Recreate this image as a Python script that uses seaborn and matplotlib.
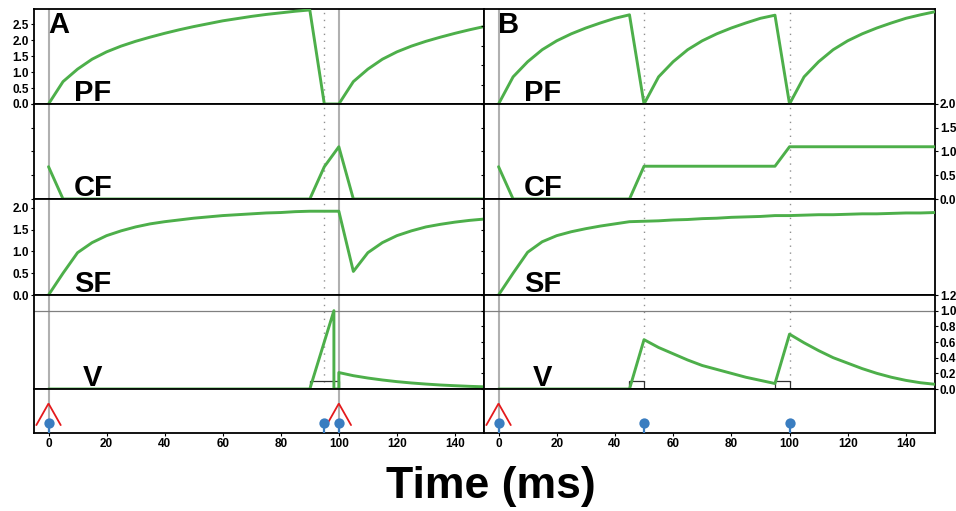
import matplotlib
matplotlib.use("Agg")
import matplotlib.pyplot as plt
from matplotlib.patches import Rectangle
import seaborn as sns

sns.set_style("white")
plt.rcParams['font.family'] = ['Liberation Sans', 'DejaVu Sans']
plt.rcParams['font.weight'] = 'bold'
plt.rcParams['text.color'] = 'black'
plt.rcParams['axes.labelcolor'] = 'black'
plt.rcParams['xtick.color'] = 'black'
plt.rcParams['ytick.color'] = 'black'

# ---------------- data ----------------
t5 = list(range(0, 155, 5))

pf_a = [0, 0.70, 1.09, 1.40, 1.63, 1.81, 1.96, 2.09, 2.21, 2.32, 2.42, 2.51, 2.60,
        2.67, 2.74, 2.80, 2.85, 2.90, 2.94, 0, 0, 0.70, 1.09, 1.40, 1.63, 1.81,
        1.96, 2.09, 2.21, 2.32, 2.42]
pf_b = [0, 0.70, 1.09, 1.40, 1.63, 1.81, 1.96, 2.09, 2.21, 2.30, 0, 0.70, 1.09,
        1.40, 1.63, 1.81, 1.96, 2.09, 2.21, 2.29, 0, 0.70, 1.09, 1.40, 1.63, 1.81,
        1.96, 2.09, 2.21, 2.30, 2.38]

cf_a_t = [0, 5, 90, 95, 100, 105, 150]
cf_a = [0.68, 0, 0, 0.68, 1.10, 0, 0]
cf_b_t = [0, 5, 45, 50, 95, 100, 150]
cf_b = [0.68, 0, 0, 0.69, 0.69, 1.10, 1.10]

sf_a = [0, 0.50, 0.97, 1.20, 1.36, 1.47, 1.56, 1.63, 1.68, 1.72, 1.76, 1.79, 1.82,
        1.84, 1.86, 1.88, 1.89, 1.91, 1.92, 1.92, 1.92, 0.54, 0.97, 1.20, 1.36,
        1.47, 1.56, 1.62, 1.67, 1.71, 1.74]
sf_b = [0, 0.50, 0.98, 1.22, 1.36, 1.45, 1.52, 1.58, 1.63, 1.68, 1.69, 1.70, 1.72,
        1.73, 1.75, 1.76, 1.78, 1.79, 1.80, 1.82, 1.82, 1.83, 1.84, 1.84, 1.85,
        1.86, 1.86, 1.87, 1.88, 1.88, 1.89]

v_a_t = [0, 90, 98.3, 98.3, 100, 100, 105, 110, 115, 120, 125, 130, 135, 140, 145, 150]
v_a = [0, 0, 1.0, 0, 0, 0.21, 0.17, 0.14, 0.115, 0.094, 0.077, 0.063, 0.051,
       0.042, 0.034, 0.028]
v_b_t = [0, 45, 50, 55, 60, 65, 70, 75, 80, 85, 90, 95, 100, 105, 110, 115, 120,
         125, 130, 135, 140, 145, 150]
v_b = [0, 0, 0.63, 0.53, 0.45, 0.37, 0.30, 0.25, 0.20, 0.15, 0.11, 0.07, 0.70,
       0.59, 0.49, 0.40, 0.33, 0.26, 0.20, 0.15, 0.11, 0.08, 0.06]
v_threshold = 1.0

pulse_a_start, pulse_a_end = [90], [100]
pulse_b_start, pulse_b_end = [45, 95], [50, 100]
pulse_height = 0.1

pf_spikes_a = [0, 95, 100]
pf_spikes_b = [0, 50, 100]
cf_spikes_a = [0, 100]
cf_spikes_b = [0]

xticks = [0, 20, 40, 60, 80, 100, 120, 140]

# ---------------- style ----------------
GREEN = "#4daf4a"
BLUE = "#3a7dc0"
RED = "#e41a1c"
W, H = 956, 511
fig = plt.figure(figsize=(W / 100, H / 100), dpi=100)

rows = [(9, 104), (104, 199), (199, 295), (295, 389), (389, 433)]
cols = [(34, 484), (484, 935)]


def add_ax(c, r):
    x0, x1 = cols[c]
    yt, yb = rows[r]
    return fig.add_axes([x0 / W, (H - yb) / H, (x1 - x0) / W, (yb - yt) / H])


def style(ax):
    ax.set_xlim(-5, 150)
    for s in ax.spines.values():
        s.set_color("black")
        s.set_linewidth(1.3)
    ax.tick_params(axis='both', direction='out', length=2.5, width=0.8,
                   labelsize=8.5, pad=1, colors='black')
    ax.tick_params(axis='x', bottom=False, labelbottom=False)
    ax.set_xlabel("")
    ax.set_ylabel("")


panels = [
    dict(letter="A", pf=(t5, pf_a), cf=(cf_a_t, cf_a), sf=(t5, sf_a), v=(v_a_t, v_a),
         ps=(pulse_a_start, pulse_a_end), pfs=pf_spikes_a, cfs=cf_spikes_a,
         pf_ylim=2.97),
    dict(letter="B", pf=(t5, pf_b), cf=(cf_b_t, cf_b), sf=(t5, sf_b), v=(v_b_t, v_b),
         ps=(pulse_b_start, pulse_b_end), pfs=pf_spikes_b, cfs=cf_spikes_b,
         pf_ylim=2.45),
]

names = ["PF", "CF", "SF", "V"]
for c, p in enumerate(panels):
    solid = p["cfs"]
    dotted = [s for s in p["pfs"] if s not in solid]
    series = [p["pf"], p["cf"], p["sf"], p["v"]]
    ylims = [p["pf_ylim"], 2.0, 2.2, 1.2]
    for r in range(4):
        ax = add_ax(c, r)
        style(ax)
        for s in solid:
            ax.axvline(s, color="#b0b0b0", lw=1.5, zorder=1)
        for s in dotted:
            ax.axvline(s, color="#909090", lw=1.0, ls=(0, (1, 4)), zorder=1)
        if r == 3:
            ax.axhline(v_threshold, color="#808080", lw=0.9, zorder=1)
            for a, b in zip(*p["ps"]):
                ax.add_patch(Rectangle((a, 0), b - a, pulse_height, fill=False,
                                       edgecolor="#333333", lw=0.9, zorder=2))
        tx, ty = series[r]
        sns.lineplot(x=tx, y=ty, ax=ax, color=GREEN, lw=2.1, estimator=None,
                     sort=False, legend=False, zorder=3)
        ax.set_ylim(0, ylims[r])
        ax.set_xlabel("")
        ax.set_ylabel("")
        if r == 3:
            yt = [0, 0.2, 0.4, 0.6, 0.8, 1.0, 1.2]
        elif r == 0 and c == 0:
            yt = [0, 0.5, 1.0, 1.5, 2.0, 2.5]
        else:
            yt = [0, 0.5, 1.0, 1.5, 2.0]
        ax.set_yticks(yt)
        ax.set_yticklabels([f"{v:.1f}" for v in yt])
        if c == 0:
            lab = r in (0, 2)
            ax.tick_params(axis='y', left=(r != 3), labelleft=lab, right=False,
                           labelright=False)
        else:
            lab = r in (1, 3)
            ax.tick_params(axis='y', left=True, labelleft=False, right=lab,
                           labelright=lab)
        xoff = 0.109 if r == 3 else 0.089
        ax.text(xoff, 0.03, names[r], transform=ax.transAxes, fontsize=21,
                fontweight='bold', ha='left', va='baseline', zorder=5)
        if r == 0:
            ax.text(0.031, 0.975, p["letter"], transform=ax.transAxes, fontsize=21,
                    fontweight='bold', ha='left', va='top', zorder=5)

    # event row
    ax = add_ax(c, 4)
    style(ax)
    ax.set_ylim(0, 1)
    ax.set_yticks([])
    for s in solid:
        ax.axvline(s, color="#b0b0b0", lw=1.5, zorder=1)
    for s in p["cfs"]:
        ax.plot([s - 4.2, s, s + 4.2], [0.18, 0.67, 0.18], color=RED, lw=1.3,
                zorder=2, solid_joinstyle='miter')
    ax.vlines(p["pfs"], 0, 0.22, color=BLUE, lw=1.6, zorder=3)
    sns.scatterplot(x=p["pfs"], y=[0.22] * len(p["pfs"]), ax=ax, color=BLUE,
                    s=55, edgecolor=BLUE, linewidth=0, zorder=4, legend=False)
    ax.set_xlabel("")
    ax.set_ylabel("")
    ax.tick_params(axis='x', bottom=True, labelbottom=True)
    ax.set_xticks(xticks)
    ax.set_xticklabels([str(v) for v in xticks])

fig.text(491 / W, (H - 486) / H, "Time (ms)", fontsize=32, fontweight='bold',
         ha='center', va='center', color='black')

fig.savefig("out.png", dpi=100)
